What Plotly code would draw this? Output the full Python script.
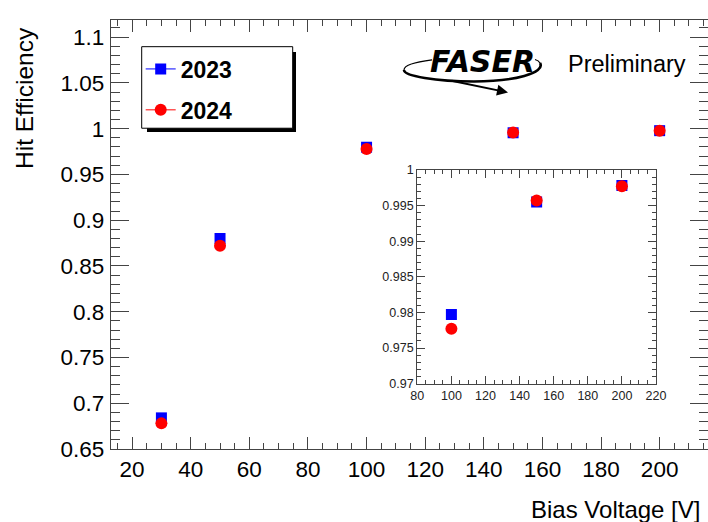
import plotly.graph_objects as go

# ---------------- data ----------------
voltages = [30, 50, 100, 150, 200]
eff_2023 = [0.684, 0.880, 0.9797, 0.9955, 0.9978]
eff_2024 = [0.678, 0.872, 0.9777, 0.9957, 0.9977]

main_xticks = [20, 40, 60, 80, 100, 120, 140, 160, 180, 200]
main_xtick_labels = ["20", "40", "60", "80", "100", "120", "140", "160", "180", "200"]
main_yticks = [0.65, 0.7, 0.75, 0.8, 0.85, 0.9, 0.95, 1.0, 1.05, 1.1]
main_ytick_labels = ["0.65", "0.7", "0.75", "0.8", "0.85", "0.9", "0.95", "1", "1.05", "1.1"]
inset_xticks = [80, 100, 120, 140, 160, 180, 200, 220]
inset_xtick_labels = ["80", "100", "120", "140", "160", "180", "200", "220"]
inset_yticks = [0.97, 0.975, 0.98, 0.985, 0.99, 0.995, 1.0]
inset_ytick_labels = ["0.97", "0.975", "0.98", "0.985", "0.99", "0.995", "1"]
series_names = ["2023", "2024"]

# ---------------- layout geometry (pixels) ----------------
WIDTH, HEIGHT = 708, 522
L, R, T, B = 111, 708, 20, 449.3
PW, PH = R - L, B - T


def px(x):
    return (x - L) / PW


def py(y):
    return (B - y) / PH


FONT = "Liberation Sans, Arial, Helvetica, sans-serif"
BLUE = "#0000ff"
RED = "#ff0000"
AX = "#444444"

fig = go.Figure()

# main plot
fig.add_trace(go.Scatter(x=voltages, y=eff_2023, mode="markers",
                         marker=dict(symbol="square", size=11, color=BLUE),
                         showlegend=False, xaxis="x", yaxis="y"))
fig.add_trace(go.Scatter(x=voltages, y=eff_2024, mode="markers",
                         marker=dict(symbol="circle", size=12, color=RED),
                         showlegend=False, xaxis="x", yaxis="y"))
# inset
fig.add_trace(go.Scatter(x=voltages[2:], y=eff_2023[2:], mode="markers",
                         marker=dict(symbol="square", size=11, color=BLUE),
                         showlegend=False, xaxis="x2", yaxis="y2"))
fig.add_trace(go.Scatter(x=voltages[2:], y=eff_2024[2:], mode="markers",
                         marker=dict(symbol="circle", size=12, color=RED),
                         showlegend=False, xaxis="x2", yaxis="y2"))
# legend entries
fig.add_trace(go.Scatter(x=[None], y=[None], mode="lines+markers", name=series_names[0],
                         legendgroup="a",
                         line=dict(color=BLUE, width=1),
                         marker=dict(symbol="square", size=11, color=BLUE)))
fig.add_trace(go.Scatter(x=[None], y=[None], mode="lines+markers", name=series_names[1],
                         legendgroup="b",
                         line=dict(color=RED, width=1),
                         marker=dict(symbol="circle", size=12, color=RED)))

axis_common = dict(showline=True, linecolor=AX, linewidth=1.3, mirror="ticks",
                   ticks="inside", tickcolor=AX, tickwidth=1.2,
                   showgrid=False, zeroline=False, automargin=False)

fig.update_layout(
    width=WIDTH, height=HEIGHT,
    margin=dict(l=L, r=WIDTH - R, t=T, b=HEIGHT - B, pad=0, autoexpand=False),
    paper_bgcolor="white", plot_bgcolor="white",
    font=dict(family=FONT, color="black"),
    xaxis=dict(**axis_common, range=[12.8, 216.5], domain=[0, 1], anchor="y",
               tickmode="array", tickvals=main_xticks, ticktext=main_xtick_labels,
               ticklen=12, tickfont=dict(size=22.5, family=FONT),
               minor=dict(ticks="inside", dtick=5, tick0=0, ticklen=6, tickcolor=AX, tickwidth=1.2)),
    yaxis=dict(**axis_common, range=[0.65, 1.1187], domain=[0, 1], anchor="x",
               tickmode="array", tickvals=main_yticks, ticktext=main_ytick_labels,
               ticklen=18, tickfont=dict(size=22.5, family=FONT), ticklabelstandoff=1,
               minor=dict(ticks="inside", dtick=0.01, tick0=0.65, ticklen=9, tickcolor=AX, tickwidth=1.2)),
    xaxis2=dict(**axis_common, range=[80, 220], domain=[px(417.3), px(656)], anchor="y2",
                tickmode="array", tickvals=inset_xticks, ticktext=inset_xtick_labels,
                ticklen=8, tickfont=dict(size=12.5, family=FONT, color="#222"),
                minor=dict(ticks="inside", dtick=5, tick0=0, ticklen=4, tickcolor=AX, tickwidth=1)),
    yaxis2=dict(**axis_common, range=[0.97, 1.0], domain=[py(384), py(170)], anchor="x2",
                tickmode="array", tickvals=inset_yticks, ticktext=inset_ytick_labels,
                ticklen=8, tickfont=dict(size=12.5, family=FONT, color="#222"),
                minor=dict(ticks="inside", dtick=0.001, tick0=0.97, ticklen=4, tickcolor=AX, tickwidth=1)),
    legend=dict(x=px(140.7), y=py(47.5), xanchor="left", yanchor="top",
                bgcolor="rgba(0,0,0,0)", borderwidth=0,
                traceorder="grouped", tracegroupgap=8,
                font=dict(size=23, family=FONT, color="black", weight="bold")),
    showlegend=True,
)

# legend box with shadow
shapes = [
    dict(type="rect", xref="paper", yref="paper", layer="above",
         x0=px(147), x1=px(296), y0=py(132), y1=py(52),
         fillcolor="black", line=dict(width=0)),
    dict(type="rect", xref="paper", yref="paper", layer="above",
         x0=px(141.7), x1=px(292.7), y0=py(128.3), y1=py(46.7),
         fillcolor="white", line=dict(color="black", width=1)),
]


def path(points_cmd):
    out = []
    for tok in points_cmd:
        if isinstance(tok, str):
            out.append(tok)
        else:
            out.append(f"{px(tok[0]):.5f},{py(tok[1]):.5f}")
    return " ".join(out)


# FASER logo swoosh (decoration)
bottom_arc = path(["M", (404, 70), "C", (404, 76), (436, 81.5), (474, 81.5),
                   "C", (514, 81.5), (546, 73), (540, 63)])
top_left = path(["M", (404, 70), "C", (404, 65.5), (416, 62), (432, 60)])
top_right = path(["M", (540, 63), "C", (539, 61), (537, 60), (535, 59.5)])
shapes += [
    dict(type="path", xref="paper", yref="paper", path=bottom_arc, layer="above",
         line=dict(color="black", width=2.6)),
    dict(type="path", xref="paper", yref="paper", path=top_left, layer="above",
         line=dict(color="black", width=1.2)),
    dict(type="path", xref="paper", yref="paper", path=top_right, layer="above",
         line=dict(color="black", width=1.2)),
]
fig.update_layout(shapes=shapes)

annotations = [
    dict(text="Hit Efficiency", xref="paper", yref="paper", x=px(25), y=py(25),
         xanchor="center", yanchor="top", textangle=-90, showarrow=False,
         font=dict(size=24.5, family=FONT, color="black")),
    dict(text="Bias Voltage [V]", xref="paper", yref="paper", x=px(702), y=py(510),
         xanchor="right", yanchor="middle", showarrow=False,
         font=dict(size=24, family=FONT, color="black")),
    dict(text="Preliminary", xref="paper", yref="paper", x=px(566), y=py(64),
         xanchor="left", yanchor="middle", showarrow=False,
         font=dict(size=23.5, family=FONT, color="black")),
    dict(text="<b><i>FASER</i></b>", xref="paper", yref="paper", x=px(482), y=py(62),
         xanchor="center", yanchor="middle", showarrow=False,
         font=dict(size=30, family="DejaVu Sans, Liberation Sans, sans-serif", color="black")),
    dict(text="", xref="paper", yref="paper", x=px(508), y=py(92.5),
         ax=-58, ay=-12, showarrow=True, arrowhead=2, arrowsize=1.1,
         arrowwidth=2, arrowcolor="black"),
]
fig.update_layout(annotations=annotations)

fig.write_html(
    "out.html",
    config={"displayModeBar": False},
    post_script="document.body.style.margin='0';document.body.style.overflow='hidden';"
                "document.documentElement.style.overflow='hidden';",
)
